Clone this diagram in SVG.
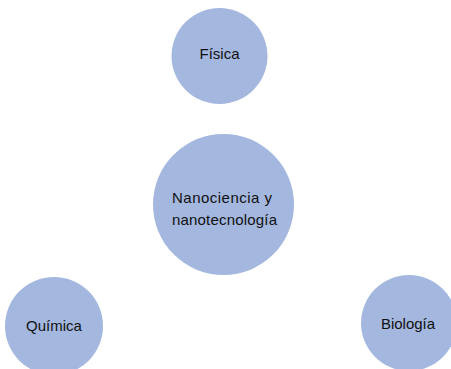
<svg xmlns="http://www.w3.org/2000/svg" width="451" height="369" viewBox="0 0 451 369">
<style>
.n{fill:#a3b7df;stroke:none}
.t{font-family:"Liberation Sans",Arial,sans-serif;font-size:15px;fill:#111}
</style>
<rect width="451" height="369" fill="#fff"/>
<g id="connectors"></g>
<g id="fisica"><circle class="n" cx="219.5" cy="56" r="48"/><text class="t" x="219.5" y="59" text-anchor="middle">Física</text></g>
<g id="nano"><circle class="n" cx="223.5" cy="204.5" r="70.5"/><text class="t" x="172" y="203" textLength="100">Nanociencia y</text><text class="t" x="172" y="225" textLength="105">nanotecnología</text></g>
<g id="quimica"><circle class="n" cx="54" cy="326" r="49"/><text class="t" x="54" y="331" text-anchor="middle">Química</text></g>
<g id="biologia"><circle class="n" cx="409" cy="323" r="48"/><text class="t" x="408" y="329" text-anchor="middle">Biología</text></g>
</svg>
